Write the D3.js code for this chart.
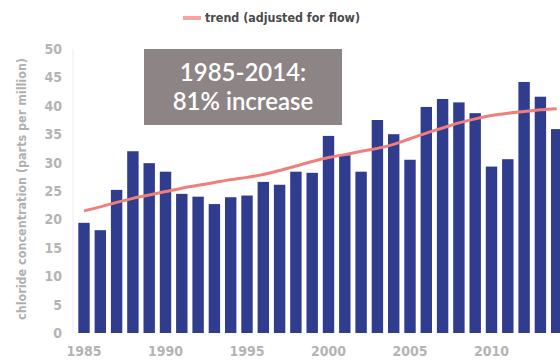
<!DOCTYPE html>
<html>
<head>
<meta charset="utf-8">
<script src="https://cdn.jsdelivr.net/npm/d3@7"></script>
<style>
  body { margin: 0; background: #fff; }
  text { font-family: "DejaVu Sans Condensed", "Liberation Sans Narrow", sans-serif; font-weight: bold; }
</style>
</head>
<body>
<div id="chart"></div>
<script>
// données
var years = d3.range(1985, 2015);
var chloride = [19.4, 18.1, 25.2, 32.0, 29.9, 28.4, 24.5, 24.0, 22.7, 23.9,
                24.2, 26.6, 26.1, 28.4, 28.2, 34.7, 31.3, 28.4, 37.5, 35.0,
                30.5, 39.8, 41.2, 40.6, 38.7, 29.3, 30.6, 44.2, 41.6, 35.9];
var trend = [21.5, 22.2, 23.0, 23.7, 24.3, 24.9, 25.5, 26.0, 26.5, 27.0,
             27.4, 27.9, 28.6, 29.4, 30.2, 30.9, 31.4, 32.0, 32.5, 33.2,
             34.2, 35.2, 36.1, 37.0, 37.7, 38.3, 38.7, 39.0, 39.3, 39.5];
var yTicks = [0, 5, 10, 15, 20, 25, 30, 35, 40, 45, 50];
var xTicks = [1985, 1990, 1995, 2000, 2005, 2010];
var legendLabel = "trend (adjusted for flow)";
var yTitle = "chloride concentration (parts per million)";
var boxLines = ["1985-2014:", "81% increase"];

var width = 560, height = 360;

var svg = d3.select("#chart").append("svg")
    .attr("width", width)
    .attr("height", height);

// échelles
var x = d3.scaleBand()
    .domain(years)
    .range([75.85, 564.85])
    .paddingInner(0.3)
    .paddingOuter(0.15);
var y = d3.scaleLinear()
    .domain([0, 50])
    .range([333, 49]);

// axe vertical discret
svg.append("line")
    .attr("x1", 73).attr("x2", 73)
    .attr("y1", y(50)).attr("y2", y(0))
    .attr("stroke", "#eeeef2")
    .attr("stroke-width", 1);

// axe y
var yAxis = svg.append("g")
    .attr("transform", "translate(62,0)")
    .call(d3.axisLeft(y).tickValues(yTicks).tickSize(0).tickPadding(0));
yAxis.select(".domain").remove();
yAxis.selectAll("text")
    .attr("fill", "#b4b4b4")
    .style("font-size", "14px");

// axe x
var xAxis = svg.append("g")
    .attr("transform", "translate(0," + y(0) + ")")
    .call(d3.axisBottom(x).tickValues(xTicks).tickSize(0).tickPadding(13));
xAxis.select(".domain").remove();
xAxis.selectAll("text")
    .attr("fill", "#b4b4b4")
    .style("font-size", "14px");

// titre y
svg.append("text")
    .attr("transform", "translate(26," + 189 + ") rotate(-90)")
    .attr("text-anchor", "middle")
    .attr("fill", "#b0b0b0")
    .attr("textLength", 262)
    .attr("lengthAdjust", "spacingAndGlyphs")
    .style("font-size", "12px")
    .text(yTitle);

// barres
svg.selectAll("rect.bar")
    .data(chloride)
    .enter()
    .append("rect")
    .attr("class", "bar")
    .attr("x", function(d, i) { return x(years[i]); })
    .attr("y", function(d) { return y(d); })
    .attr("width", x.bandwidth())
    .attr("height", function(d) { return y(0) - y(d); })
    .attr("fill", "#303d8e");

// ligne de tendance
var line = d3.line()
    .x(function(d, i) { return x(years[i]) + x.bandwidth() / 2; })
    .y(function(d) { return y(d); })
    .curve(d3.curveMonotoneX);
svg.append("path")
    .datum(trend)
    .attr("d", line)
    .attr("fill", "none")
    .attr("stroke", "#ef7f7b")
    .attr("stroke-width", 3);

// légende
svg.append("line")
    .attr("x1", 183).attr("x2", 201)
    .attr("y1", 18).attr("y2", 18)
    .attr("stroke", "#f5a3a3")
    .attr("stroke-width", 4);
svg.append("text")
    .attr("x", 205)
    .attr("y", 22)
    .attr("fill", "#4a4a4a")
    .attr("textLength", 155)
    .attr("lengthAdjust", "spacingAndGlyphs")
    .style("font-size", "13px")
    .text(legendLabel);

// encadré
svg.append("rect")
    .attr("x", 144).attr("y", 49)
    .attr("width", 198).attr("height", 76)
    .attr("fill", "#8d8486");
svg.selectAll("text.box")
    .data(boxLines)
    .enter()
    .append("text")
    .attr("class", "box")
    .attr("x", 243)
    .attr("y", function(d, i) { return 81 + i * 29; })
    .attr("text-anchor", "middle")
    .attr("fill", "#fff")
    .style("font-family", "Lato, 'Open Sans', sans-serif")
    .style("font-weight", "600")
    .style("font-size", "24px")
    .text(function(d) { return d; });
</script>
</body>
</html>
